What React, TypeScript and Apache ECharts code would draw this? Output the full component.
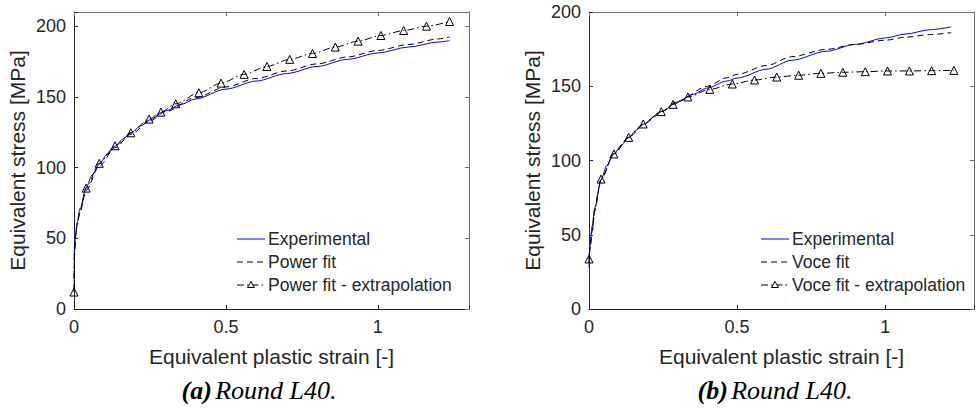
import React, { useEffect, useRef } from "react";
import * as echarts from "echarts";

// ---- (a) Power law ----
const strainExpA = [0, 0.002, 0.005, 0.01, 0.02, 0.04, 0.06, 0.083, 0.11, 0.135, 0.16, 0.187, 0.22, 0.247, 0.3, 0.35, 0.4, 0.5, 0.6, 0.7, 0.8, 0.9, 1.0, 1.1, 1.2, 1.236];
const stressExpA = [35, 45, 53, 61, 71, 86, 95, 102.5, 109.5, 115, 120, 124.5, 129.5, 133.5, 140, 144.5, 148.5, 155.5, 161.2, 166.5, 171.5, 176.5, 181, 185.2, 188.8, 189.7];

const strainPowerA = [0, 0.001, 0.005, 0.01, 0.02, 0.04, 0.083, 0.135, 0.187, 0.247, 0.3, 0.4, 0.5, 0.6, 0.7, 0.8, 0.9, 1.0, 1.1, 1.2, 1.236];
const stressPowerA = [14, 35, 51, 59, 69, 84, 101, 114, 123.5, 132.5, 139.5, 149.5, 157, 163, 168.3, 173.3, 178.2, 182.8, 187, 191, 192.3];

// marked points of the extrapolated power law
const strainPowerExtA = [0, 0.04, 0.083, 0.135, 0.187, 0.247, 0.286, 0.335, 0.411, 0.484, 0.56, 0.635, 0.71, 0.785, 0.86, 0.935, 1.01, 1.085, 1.16, 1.236];
const stressPowerExtA = [12, 85.5, 103, 115.4, 124.6, 134.3, 139.2, 145.1, 152.9, 159.7, 165.9, 171.5, 176.5, 180.7, 185.2, 189.4, 193.4, 196.9, 200, 203.3];
// unmarked points that shape the curve near the origin
const strainPowerExtInnerA = [0.0005, 0.002, 0.005, 0.01, 0.02];
const stressPowerExtInnerA = [29, 40, 50, 59, 70];

// ---- (b) Voce law ----
const strainExpB = [0, 0.002, 0.005, 0.01, 0.02, 0.04, 0.06, 0.084, 0.11, 0.134, 0.16, 0.185, 0.22, 0.245, 0.3, 0.35, 0.4, 0.465, 0.5, 0.6, 0.685, 0.8, 0.9, 1.0, 1.07, 1.15, 1.223];
const stressExpB = [28, 40, 47, 55.5, 68.5, 87, 96.5, 104.5, 110.5, 115.5, 120.5, 124.5, 129.5, 133, 139.5, 144.5, 148.8, 153.5, 155.5, 161.5, 167.5, 173.5, 178.2, 182.5, 185.2, 188, 190];

const strainVoceB = [0, 0.005, 0.01, 0.02, 0.04, 0.084, 0.134, 0.185, 0.245, 0.3, 0.4, 0.465, 0.5, 0.6, 0.685, 0.8, 0.9, 1.0, 1.07, 1.15, 1.223];
const stressVoceB = [31, 43, 52, 67, 87, 104.5, 115.5, 124.5, 133, 140, 150, 155.7, 158, 164, 169.9, 174.8, 178.2, 181, 183, 184.8, 186.1];

const strainVoceExtB = [0, 0.0405, 0.084, 0.134, 0.183, 0.244, 0.284, 0.334, 0.408, 0.484, 0.559, 0.634, 0.708, 0.783, 0.857, 0.933, 1.008, 1.082, 1.157, 1.232];
const stressVoceExtB = [33.7, 87.5, 104.4, 115.6, 124.6, 132.9, 137.8, 142.8, 147.9, 151.5, 154.2, 156.2, 157.4, 158.7, 159.4, 159.8, 160.3, 160.3, 160.5, 160.7];
const strainVoceExtInnerB = [0.005, 0.01, 0.02, 0.03];
const stressVoceExtInnerB = [43, 52, 66, 78];

const legendA = ["Experimental", "Power fit", "Power fit - extrapolation"];
const legendB = ["Experimental", "Voce fit", "Voce fit - extrapolation"];

const xTitle = "Equivalent plastic strain [-]";
const yTitle = "Equivalent stress [MPa]";

const INK = "#262626";
const BOX = "#6e6e6e";
const BLUE = "#0000ff";
const SANS = "'Liberation Sans', Arial, Helvetica, sans-serif";
const SERIF = "'Liberation Serif', 'Times New Roman', serif";

const DASH = [6, 4];
const DASH_DOT = [7, 3, 1.5, 3];

const pairs = (xs: number[], ys: number[]) => xs.map((x, i) => [x, ys[i]]);

function markedCurve(mx: number[], my: number[], ix: number[], iy: number[]) {
  const pts: any[] = mx.map((x, i) => ({ value: [x, my[i]] }));
  ix.forEach((x, i) => pts.push({ value: [x, iy[i]], symbol: "none" }));
  pts.sort((a, b) => a.value[0] - b.value[0]);
  return pts;
}

const onStep = (step: number) => (v: number) =>
  Math.abs(v / step - Math.round(v / step)) < 1e-6 ? String(v) : "";

function axesFor(grid: number, yMax: number) {
  const tick = { show: true, inside: true, length: 4, lineStyle: { color: INK, width: 1 } };
  const boxTick = { show: true, inside: true, length: 4, lineStyle: { color: BOX, width: 1 } };
  const x = [
    {
      gridIndex: grid, type: "value", position: "bottom", min: 0, max: 1.3, interval: 0.5,
      axisLine: { show: true, onZero: false, lineStyle: { color: INK, width: 1 } },
      axisTick: tick,
      axisLabel: { fontSize: 18, color: INK, fontFamily: SANS, margin: 9, formatter: onStep(0.5) },
      splitLine: { show: false },
      name: xTitle, nameLocation: "middle", nameGap: 37,
      nameTextStyle: { fontSize: 21, color: INK, fontFamily: SANS },
    },
    {
      gridIndex: grid, type: "value", position: "top", min: 0, max: 1.3, interval: 0.5,
      axisLine: { show: true, onZero: false, lineStyle: { color: BOX, width: 1 } },
      axisTick: boxTick,
      axisLabel: { show: false }, splitLine: { show: false },
    },
  ];
  const y = [
    {
      gridIndex: grid, type: "value", position: "left", min: 0, max: yMax, interval: 50,
      axisLine: { show: true, onZero: false, lineStyle: { color: INK, width: 1 } },
      axisTick: tick,
      axisLabel: { fontSize: 18, color: INK, fontFamily: SANS, margin: 8, formatter: onStep(50) },
      splitLine: { show: false },
      name: yTitle, nameLocation: "middle", nameGap: 46, nameRotate: 90,
      nameTextStyle: { fontSize: 21, color: INK, fontFamily: SANS },
    },
    {
      gridIndex: grid, type: "value", position: "right", min: 0, max: yMax, interval: 50,
      axisLine: { show: true, onZero: false, lineStyle: { color: BOX, width: 1 } },
      axisTick: boxTick,
      axisLabel: { show: false }, splitLine: { show: false },
    },
  ];
  return { x, y };
}

function seriesFor(axis: number, names: string[], exp: number[][], fit: number[][], ext: any[]) {
  const common = { xAxisIndex: axis, yAxisIndex: axis, silent: true, smooth: 0.3, smoothMonotone: "x" };
  return [
    {
      ...common, type: "line", name: names[0], data: exp, symbol: "none", color: BLUE,
      lineStyle: { color: BLUE, width: 1 },
    },
    {
      ...common, type: "line", name: names[1], data: fit, symbol: "none", color: "#000",
      lineStyle: { color: "#000", width: 1, type: DASH },
    },
    {
      ...common, type: "line", name: names[2], data: ext, symbol: "triangle", symbolSize: 8,
      showSymbol: true, color: "#000",
      lineStyle: { color: "#000", width: 1, type: DASH_DOT },
      itemStyle: { color: "rgba(255,255,255,0)", borderColor: "#000", borderWidth: 1 },
    },
  ];
}

// Legend box drawn as plain graphics: line sample, optional marker, label
function legendGraphics(x0: number, names: string[]) {
  const rows = [239, 262, 285];
  const styles = [
    { stroke: BLUE, lineDash: null as any },
    { stroke: "#000", lineDash: DASH },
    { stroke: "#000", lineDash: DASH_DOT },
  ];
  const out: any[] = [];
  rows.forEach((y, i) => {
    out.push({
      type: "line", silent: true,
      shape: { x1: x0, y1: y, x2: x0 + 28, y2: y },
      style: { stroke: styles[i].stroke, lineWidth: 1, lineDash: styles[i].lineDash },
    });
    if (i === 2) {
      const cx = x0 + 14;
      out.push({
        type: "polygon", silent: true,
        shape: { points: [[cx, y - 3.5], [cx - 3.5, y + 2.5], [cx + 3.5, y + 2.5]] },
        style: { fill: "#fff", stroke: "#000", lineWidth: 1 },
      });
    }
    out.push({
      type: "text", silent: true, x: x0 + 31, y,
      style: {
        text: `{t|${names[i]}}`,
        verticalAlign: "middle",
        rich: { t: { fontSize: 17.5, fontFamily: SANS, fill: INK } },
      },
    });
  });
  return out;
}

function caption(cx: number, letter: string) {
  return {
    type: "text", x: cx, y: 390, silent: true,
    style: {
      text: `{b|(${letter})} {i|Round L40.}`,
      align: "center", verticalAlign: "middle",
      rich: {
        b: { fontFamily: SERIF, fontSize: 26, fontWeight: "bold", fontStyle: "italic", fill: "#000" },
        i: { fontFamily: SERIF, fontSize: 26, fontStyle: "italic", fill: "#000" },
      },
    },
  };
}

export default function App() {
  const ref = useRef<HTMLDivElement>(null);

  useEffect(() => {
    if (!ref.current) return;
    const chart = echarts.init(ref.current, undefined, { renderer: "svg" });
    const a = axesFor(0, 210);
    const b = axesFor(1, 200);
    chart.setOption({
      animation: false,
      backgroundColor: "#fff",
      grid: [
        { left: 74, top: 12, width: 395, height: 297 },
        { left: 589, top: 12, width: 395, height: 297 },
      ],
      xAxis: [a.x[0], b.x[0], a.x[1], b.x[1]],
      yAxis: [a.y[0], b.y[0], a.y[1], b.y[1]],
      series: [
        ...seriesFor(
          0, legendA,
          pairs(strainExpA, stressExpA),
          pairs(strainPowerA, stressPowerA),
          markedCurve(strainPowerExtA, stressPowerExtA, strainPowerExtInnerA, stressPowerExtInnerA)
        ),
        ...seriesFor(
          1, legendB,
          pairs(strainExpB, stressExpB),
          pairs(strainVoceB, stressVoceB),
          markedCurve(strainVoceExtB, stressVoceExtB, strainVoceExtInnerB, stressVoceExtInnerB)
        ),
      ],
      graphic: [
        ...legendGraphics(237, legendA),
        ...legendGraphics(761, legendB),
        caption(259, "a"),
        caption(775, "b"),
      ],
    });
    return () => chart.dispose();
  }, []);

  return (
    <div
      ref={ref}
      style={{ position: "fixed", left: 0, top: 0, width: 977, height: 410, background: "#fff" }}
    />
  );
}
